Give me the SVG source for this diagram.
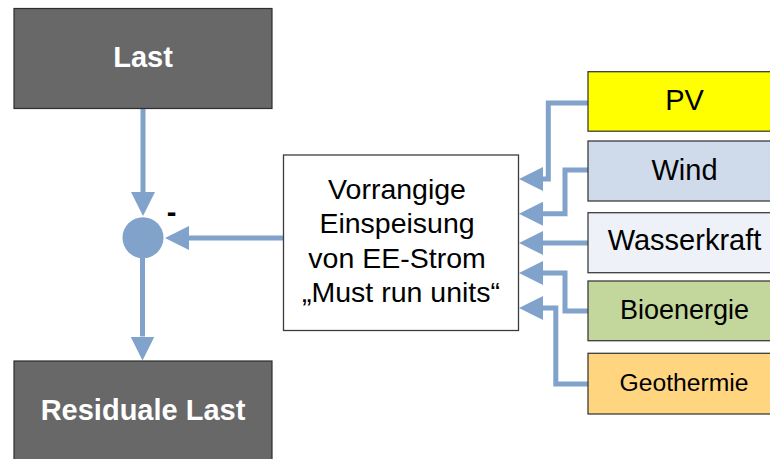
<svg xmlns="http://www.w3.org/2000/svg" width="770" height="459" viewBox="0 0 770 459">
  <style>
    .dark { fill: #686868; stroke: #2e2e2e; stroke-width: 1.2; }
    .box { stroke: #3c3c3c; stroke-width: 1.3; }
    .wt { font-family: "Liberation Sans", Arial, sans-serif; font-weight: bold; font-size: 29px; fill: #ffffff; text-anchor: middle; }
    .t { font-family: "Liberation Sans", Arial, sans-serif; fill: #000000; text-anchor: middle; }
    .flow { fill: none; stroke: #80A2CB; stroke-width: 5; stroke-linejoin: miter; marker-end: url(#arrow); }
  </style>
  <defs>
    <marker id="arrow" viewBox="0 0 24 24" refX="0" refY="12" markerWidth="24" markerHeight="24" markerUnits="userSpaceOnUse" orient="auto">
      <path d="M0,0 L24,12 L0,24 Z" fill="#80A2CB"/>
    </marker>
  </defs>
  <rect width="770" height="459" fill="#ffffff"/>

  <!-- connectors -->
  <g id="connectors">
    <path class="flow" d="M143,108.5 V192"/>
    <path class="flow" d="M283.5,238 H189"/>
    <path class="flow" d="M142.5,258 V336.5"/>
    <path class="flow" d="M588,103 H548.3 V179 H543"/>
    <path class="flow" d="M588,170 H565 V213.7 H543"/>
    <path class="flow" d="M588,243 H543"/>
    <path class="flow" d="M588,311 H565 V273 H543"/>
    <path class="flow" d="M588,384 H555.8 V308 H543"/>
  </g>

  <!-- summing point -->
  <g id="sum">
    <circle cx="143" cy="237.7" r="20.5" fill="#80A2CB"/>
    <text x="171.5" y="222" class="t" font-size="29" font-weight="bold">-</text>
  </g>

  <g id="last">
    <rect class="dark" x="14" y="8.5" width="258" height="100"/>
    <text class="wt" x="143" y="67">Last</text>
  </g>

  <g id="residual">
    <rect class="dark" x="14" y="361" width="258" height="100"/>
    <text class="wt" x="143" y="420">Residuale Last</text>
  </g>

  <g id="priority">
    <rect class="box" x="283.5" y="155" width="235" height="175.5" fill="#ffffff"/>
    <text class="t" font-size="28.5">
      <tspan x="401" y="199.3">Vorrangige</tspan>
      <tspan x="401" y="233.4">Einspeisung</tspan>
      <tspan x="401" y="267.5">von EE-Strom</tspan>
      <tspan x="401" y="301.7">„Must run units“</tspan>
    </text>
  </g>

  <g id="pv">
    <rect class="box" x="588" y="71.7" width="200" height="59.5" fill="#FFFF00"/>
    <text class="t" x="684.5" y="110" font-size="29">PV</text>
  </g>
  <g id="wind">
    <rect class="box" x="588" y="141" width="200" height="60" fill="#CFDBEA"/>
    <text class="t" x="684.5" y="180" font-size="29">Wind</text>
  </g>
  <g id="wasserkraft">
    <rect class="box" x="588" y="212.7" width="200" height="60" fill="#EEF2F8"/>
    <text class="t" x="684.5" y="250" font-size="29">Wasserkraft</text>
  </g>
  <g id="bioenergie">
    <rect class="box" x="588" y="281" width="200" height="59.7" fill="#C3D69B"/>
    <text class="t" x="684.5" y="318.5" font-size="27">Bioenergie</text>
  </g>
  <g id="geothermie">
    <rect class="box" x="588" y="353.3" width="200" height="60.7" fill="#FFD580"/>
    <text class="t" x="684" y="390.5" font-size="24.7">Geothermie</text>
  </g>
</svg>
